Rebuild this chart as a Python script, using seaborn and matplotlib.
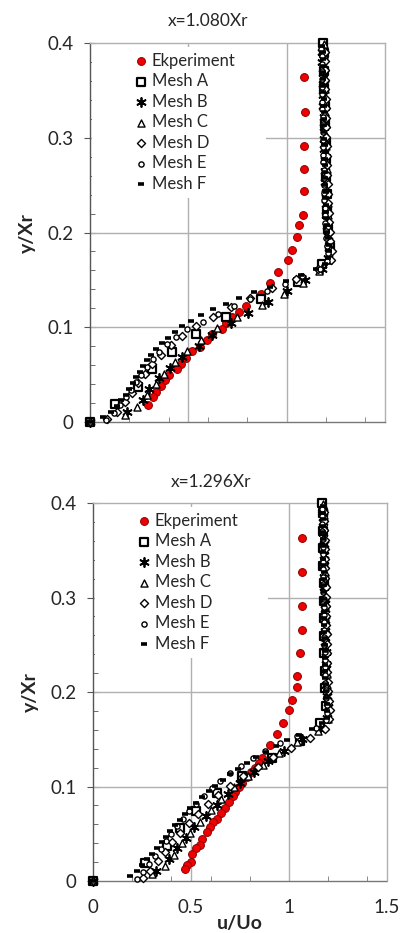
import matplotlib
matplotlib.use("Agg")
import matplotlib.pyplot as plt
import seaborn as sns
import numpy as np
import pandas as pd
from matplotlib.ticker import MultipleLocator, FixedLocator
from matplotlib.patches import Rectangle

# ---------------- DATA ----------------
TITLES = ["x=1.080Xr", "x=1.296Xr"]
SERIES = ["Ekperiment", "Mesh A", "Mesh B", "Mesh C", "Mesh D", "Mesh E", "Mesh F"]
X_TICKS = [0, 0.5, 1, 1.5]
X_TICK_LABELS = ["0", "0.5", "1", "1.5"]
Y_TICKS = [0, 0.1, 0.2, 0.3, 0.4]
Y_TICK_LABELS = ["0", "0.1", "0.2", "0.3", "0.4"]

# Experiment, station 1
EXP1_U = [1.088, 1.095, 1.088, 1.088, 1.088, 1.081, 1.061, 1.052, 1.029, 1.005, 0.958,
          0.917, 0.868, 0.795, 0.756, 0.721, 0.690, 0.670, 0.621, 0.597, 0.558, 0.521,
          0.487, 0.465, 0.440, 0.403, 0.382, 0.360, 0.335, 0.321, 0.293]
EXP1_Y = [0.3645, 0.327, 0.2917, 0.267, 0.244, 0.219, 0.2076, 0.195, 0.182, 0.171, 0.1587,
          0.1467, 0.135, 0.1224, 0.1164, 0.111, 0.105, 0.098, 0.0925, 0.0865, 0.0795, 0.0746,
          0.0675, 0.061, 0.056, 0.050, 0.044, 0.0377, 0.032, 0.026, 0.0176]
# Experiment, station 2
EXP2_U = [1.068, 1.065, 1.068, 1.065, 1.058, 1.041, 1.041, 1.017, 0.998, 0.969, 0.939,
          0.903, 0.864, 0.847, 0.827, 0.804, 0.784, 0.760, 0.743, 0.726, 0.713, 0.692,
          0.673, 0.651, 0.634, 0.614, 0.597, 0.583, 0.555, 0.544, 0.526, 0.503, 0.500,
          0.481, 0.471]
EXP2_Y = [0.363, 0.327, 0.291, 0.266, 0.2416, 0.217, 0.205, 0.192, 0.1806, 0.1676, 0.156,
          0.144, 0.130, 0.125, 0.120, 0.115, 0.110, 0.104, 0.099, 0.0945, 0.090, 0.0836,
          0.077, 0.0716, 0.066, 0.062, 0.0568, 0.052, 0.0448, 0.038, 0.0346, 0.029, 0.020,
          0.017, 0.013]

# Mesh A (same y grid at both stations)
MESH_A_Y = [0, 0.019, 0.037, 0.056, 0.074, 0.093, 0.111, 0.130, 0.148, 0.167, 0.185, 0.204,
            0.222, 0.241, 0.259, 0.278, 0.296, 0.315, 0.333, 0.352, 0.370, 0.389, 0.400]
MESH_A_U1 = [0, 0.127, 0.242, 0.316, 0.416, 0.541, 0.690, 0.868, 1.056, 1.181, 1.222, 1.212,
             1.207, 1.204, 1.202, 1.200, 1.198, 1.196, 1.194, 1.192, 1.190, 1.188, 1.186]
MESH_A_U2 = [0, 0.265, 0.376, 0.444, 0.526, 0.633, 0.762, 0.912, 1.056, 1.158, 1.190, 1.185,
             1.183, 1.181, 1.180, 1.179, 1.178, 1.177, 1.176, 1.175, 1.174, 1.172, 1.167]

# Mesh B
MESH_B_Y = [0, 0.011, 0.023, 0.0345, 0.046, 0.057, 0.069, 0.080, 0.092, 0.104, 0.115, 0.127,
            0.138, 0.150, 0.161, 0.173, 0.184, 0.196, 0.207, 0.219, 0.230, 0.242, 0.253,
            0.265, 0.276, 0.288, 0.299, 0.311, 0.322, 0.334, 0.345, 0.357, 0.368, 0.380, 0.391]
MESH_B_U1 = [0, 0.186, 0.271, 0.301, 0.352, 0.406, 0.470, 0.555, 0.620, 0.715, 0.805, 0.905,
             1.000, 1.095, 1.180, 1.212, 1.215, 1.210, 1.205, 1.202, 1.200, 1.198, 1.197,
             1.195, 1.194, 1.192, 1.191, 1.190, 1.188, 1.187, 1.186, 1.184, 1.183, 1.181, 1.178]
MESH_B_U2 = [0, 0.321, 0.390, 0.427, 0.474, 0.517, 0.577, 0.631, 0.690, 0.752, 0.820, 0.895,
             0.975, 1.065, 1.160, 1.195, 1.198, 1.194, 1.191, 1.189, 1.188, 1.187, 1.186,
             1.185, 1.184, 1.183, 1.182, 1.181, 1.180, 1.179, 1.178, 1.177, 1.176, 1.175, 1.172]

# Mesh C
MESH_C_Y = [0, 0.0074, 0.016, 0.028, 0.040, 0.051, 0.063, 0.075, 0.087, 0.099, 0.111, 0.123,
            0.135, 0.147, 0.159, 0.171, 0.183, 0.195, 0.207, 0.219, 0.231, 0.243, 0.255,
            0.267, 0.279, 0.291, 0.303, 0.315, 0.327, 0.339, 0.351, 0.363, 0.375, 0.387, 0.399]
MESH_C_U1 = [0, 0.178, 0.240, 0.290, 0.335, 0.378, 0.430, 0.495, 0.565, 0.648, 0.745, 0.875,
             0.985, 1.085, 1.165, 1.212, 1.222, 1.216, 1.212, 1.210, 1.208, 1.206, 1.205,
             1.203, 1.202, 1.200, 1.199, 1.198, 1.197, 1.196, 1.195, 1.194, 1.193, 1.192, 1.190]
MESH_C_U2 = [0, 0.300, 0.370, 0.415, 0.455, 0.495, 0.545, 0.600, 0.655, 0.720, 0.790, 0.870,
             0.950, 1.040, 1.150, 1.200, 1.205, 1.198, 1.194, 1.192, 1.190, 1.189, 1.188,
             1.187, 1.186, 1.185, 1.184, 1.183, 1.182, 1.181, 1.180, 1.179, 1.178, 1.177, 1.176]

# Mesh D
MESH_D_Y = [0, 0.003, 0.011, 0.021, 0.031, 0.041, 0.051, 0.061, 0.071, 0.081, 0.091, 0.101,
            0.111, 0.121, 0.131, 0.141, 0.151, 0.161, 0.171, 0.181, 0.191, 0.201, 0.211,
            0.221, 0.231, 0.241, 0.251, 0.261, 0.271, 0.281, 0.291, 0.301, 0.311, 0.321,
            0.331, 0.341, 0.351, 0.361, 0.371, 0.381, 0.391]
MESH_D_U1 = [0, 0.085, 0.135, 0.180, 0.215, 0.245, 0.280, 0.315, 0.360, 0.410, 0.470, 0.540,
             0.625, 0.715, 0.815, 0.925, 1.045, 1.160, 1.225, 1.228, 1.222, 1.218, 1.215,
             1.213, 1.211, 1.209, 1.208, 1.206, 1.205, 1.204, 1.203, 1.202, 1.201, 1.200,
             1.199, 1.198, 1.197, 1.196, 1.195, 1.194, 1.193]
MESH_D_U2 = [0, 0.255, 0.290, 0.330, 0.370, 0.405, 0.445, 0.490, 0.535, 0.585, 0.640, 0.700,
             0.765, 0.840, 0.920, 1.010, 1.105, 1.184, 1.205, 1.208, 1.203, 1.200, 1.198,
             1.196, 1.195, 1.194, 1.193, 1.192, 1.191, 1.190, 1.189, 1.188, 1.187, 1.186,
             1.185, 1.184, 1.183, 1.182, 1.181, 1.180, 1.179]

# Mesh E
MESH_E_Y = [0, 0.0025, 0.010, 0.018, 0.026, 0.034, 0.042, 0.050, 0.058, 0.066, 0.074, 0.082,
            0.090, 0.098, 0.106, 0.114, 0.122, 0.130, 0.138, 0.146, 0.154, 0.162, 0.170,
            0.178, 0.186, 0.194, 0.202, 0.210, 0.218, 0.226, 0.234, 0.242, 0.250, 0.258,
            0.266, 0.274, 0.282, 0.290, 0.298, 0.306, 0.314, 0.322, 0.330, 0.338, 0.346,
            0.354, 0.362, 0.370, 0.378, 0.386, 0.394]
MESH_E_U1 = [0, 0.080, 0.120, 0.155, 0.185, 0.210, 0.235, 0.260, 0.288, 0.318, 0.352, 0.392,
             0.438, 0.492, 0.575, 0.650, 0.730, 0.815, 0.900, 0.990, 1.080, 1.170, 1.205,
             1.212, 1.206, 1.201, 1.198, 1.196, 1.194, 1.193, 1.192, 1.191, 1.190, 1.189,
             1.188, 1.187, 1.186, 1.186, 1.185, 1.184, 1.184, 1.183, 1.182, 1.182, 1.181,
             1.180, 1.180, 1.179, 1.178, 1.178, 1.177]
MESH_E_U2 = [0, 0.223, 0.255, 0.285, 0.315, 0.345, 0.372, 0.400, 0.430, 0.460, 0.492, 0.528,
             0.565, 0.605, 0.650, 0.700, 0.755, 0.815, 0.880, 0.955, 1.040, 1.140, 1.190,
             1.196, 1.192, 1.189, 1.187, 1.186, 1.185, 1.184, 1.183, 1.182, 1.181, 1.181,
             1.180, 1.179, 1.178, 1.178, 1.177, 1.176, 1.176, 1.175, 1.174, 1.174, 1.173,
             1.172, 1.172, 1.171, 1.170, 1.170, 1.169]

# Mesh F
MESH_F_Y = [0, 0.005, 0.011, 0.017, 0.023, 0.029, 0.035, 0.041, 0.047, 0.053, 0.059, 0.065,
            0.071, 0.077, 0.083, 0.089, 0.095, 0.101, 0.107, 0.113, 0.119, 0.125, 0.131,
            0.137, 0.143, 0.149, 0.155, 0.161, 0.167, 0.173, 0.180, 0.187, 0.194, 0.201,
            0.208, 0.215, 0.222, 0.229, 0.236, 0.243, 0.250, 0.257, 0.264, 0.271, 0.278,
            0.285, 0.292, 0.299, 0.306, 0.313, 0.320, 0.327, 0.334, 0.341, 0.348, 0.355,
            0.362, 0.369, 0.376, 0.383, 0.390, 0.397]
MESH_F_U1 = [0, 0.065, 0.105, 0.135, 0.160, 0.182, 0.200, 0.218, 0.235, 0.252, 0.270, 0.290,
             0.312, 0.337, 0.365, 0.396, 0.430, 0.468, 0.512, 0.565, 0.625, 0.690, 0.760,
             0.835, 0.915, 0.995, 1.075, 1.150, 1.195, 1.212, 1.216, 1.213, 1.209, 1.206,
             1.204, 1.202, 1.201, 1.200, 1.199, 1.198, 1.197, 1.196, 1.196, 1.195, 1.194,
             1.193, 1.193, 1.192, 1.191, 1.190, 1.190, 1.189, 1.188, 1.188, 1.187, 1.186,
             1.186, 1.185, 1.184, 1.184, 1.183, 1.182]
MESH_F_U2 = [0, 0.190, 0.225, 0.250, 0.275, 0.300, 0.325, 0.350, 0.372, 0.395, 0.418, 0.442,
             0.468, 0.495, 0.525, 0.557, 0.590, 0.625, 0.662, 0.700, 0.742, 0.785, 0.832,
             0.882, 0.935, 0.990, 1.050, 1.115, 1.170, 1.192, 1.196, 1.193, 1.190, 1.188,
             1.187, 1.186, 1.185, 1.184, 1.184, 1.183, 1.182, 1.182, 1.181, 1.181, 1.180,
             1.180, 1.179, 1.179, 1.178, 1.178, 1.177, 1.177, 1.176, 1.176, 1.175, 1.175,
             1.174, 1.174, 1.173, 1.173, 1.172, 1.172]

PANELS = [
    {"Ekperiment": (EXP1_U, EXP1_Y), "Mesh A": (MESH_A_U1, MESH_A_Y), "Mesh B": (MESH_B_U1, MESH_B_Y),
     "Mesh C": (MESH_C_U1, MESH_C_Y), "Mesh D": (MESH_D_U1, MESH_D_Y), "Mesh E": (MESH_E_U1, MESH_E_Y),
     "Mesh F": (MESH_F_U1, MESH_F_Y)},
    {"Ekperiment": (EXP2_U, EXP2_Y), "Mesh A": (MESH_A_U2, MESH_A_Y), "Mesh B": (MESH_B_U2, MESH_B_Y),
     "Mesh C": (MESH_C_U2, MESH_C_Y), "Mesh D": (MESH_D_U2, MESH_D_Y), "Mesh E": (MESH_E_U2, MESH_E_Y),
     "Mesh F": (MESH_F_U2, MESH_F_Y)},
]

# ---------------- STYLE ----------------
sns.set_style("white")
plt.rcParams["font.family"] = ["Lato", "DejaVu Sans"]

STYLES = {
    "Ekperiment": dict(marker="o", s=32, facecolor="#f00000", edgecolor="#8b0000", linewidth=0.7),
    "Mesh A": dict(marker="s", s=30, facecolor="white", edgecolor="black", linewidth=1.6),
    "Mesh B": dict(marker=(6, 2, 0), s=42, color="black", linewidth=1.3),
    "Mesh C": dict(marker="^", s=26, facecolor="white", edgecolor="black", linewidth=1.0),
    "Mesh D": dict(marker="D", s=17, facecolor="white", edgecolor="black", linewidth=1.0),
    "Mesh E": dict(marker="o", s=14, facecolor="white", edgecolor="black", linewidth=1.0),
    "Mesh F": dict(marker="_", s=14, color="black", linewidth=2.6),
}

fig = plt.figure(figsize=(4.06, 9.33), dpi=100)
positions = [[0.2217, 0.5477, 0.7266, 0.4062], [0.229, 0.0557, 0.7241, 0.4051]]
title_pos = [(208 / 406, 1 - 21 / 933), (211 / 406, 1 - 482 / 933)]
ylab_pos = [(27 / 406, 1 - 233 / 933), (30 / 406, 1 - 692 / 933)]

for i, (pos, data) in enumerate(zip(positions, PANELS)):
    ax = fig.add_axes(pos)
    for k, name in enumerate(SERIES):
        u, y = data[name]
        df = pd.DataFrame({"u": u, "y": y})
        sns.scatterplot(data=df, x="u", y="y", ax=ax, label=name, clip_on=False,
                        zorder=3 + k, legend=False, **STYLES[name])
    ax.set_xlim(0, 1.5)
    ax.set_ylim(0, 0.4)
    ax.set_xlabel("")
    ax.set_ylabel("")
    for gx in [0.5, 1.0]:
        ax.axvline(gx, color="#b0b0b0", lw=1.0, zorder=1)
    for gy in [0.1, 0.2, 0.3]:
        ax.axhline(gy, color="#b0b0b0", lw=1.0, zorder=1)
    # white legend backdrop (Excel legend area)
    ax.add_patch(Rectangle((0.006, 0.59), 0.59, 0.395, transform=ax.transAxes,
                           facecolor="white", edgecolor="none", zorder=2))
    for side in ["top", "right"]:
        ax.spines[side].set_color("#b0b0b0")
        ax.spines[side].set_linewidth(1.0)
    ax.spines["left"].set_color("#555555")
    ax.spines["left"].set_linestyle((0, (1, 1)))
    ax.spines["left"].set_linewidth(1.0)
    ax.spines["bottom"].set_color("#777777")
    ax.spines["bottom"].set_linestyle((0, (1, 1)))
    ax.spines["bottom"].set_linewidth(1.0)

    ax.yaxis.set_major_locator(FixedLocator(Y_TICKS))
    ax.set_yticklabels(Y_TICK_LABELS)
    ax.yaxis.set_minor_locator(MultipleLocator(0.02))
    ax.tick_params(axis="y", which="major", direction="inout", length=8, width=0.8,
                   color="#555555", labelsize=13.5, pad=8, left=True)
    ax.tick_params(axis="y", which="minor", direction="in", length=3.5, width=0.6,
                   color="#555555", left=True)
    ax.xaxis.set_major_locator(FixedLocator(X_TICKS))
    ax.xaxis.set_minor_locator(FixedLocator([0.2, 0.4, 0.6, 0.8, 1.2, 1.4]))
    ax.tick_params(axis="x", which="both", direction="in", length=3.5, width=0.6,
                   color="#777777", bottom=True)
    if i == 1:
        ax.set_xticklabels(X_TICK_LABELS)
        ax.tick_params(axis="x", which="major", labelsize=13.5, pad=13)
    else:
        ax.set_xticklabels([])

    leg = ax.legend(loc="upper left", bbox_to_anchor=(0.13, 0.99), frameon=True,
                    fontsize=12, handlelength=0.8, handletextpad=0.25, labelspacing=0.27,
                    borderpad=0.35, borderaxespad=0.0, fancybox=False)
    leg.get_frame().set_facecolor("white")
    leg.get_frame().set_edgecolor("none")
    leg.get_frame().set_alpha(1.0)
    leg.set_zorder(20)

    fig.text(title_pos[i][0], title_pos[i][1], TITLES[i], ha="center", va="center", fontsize=12.5)
    fig.text(ylab_pos[i][0], ylab_pos[i][1], "y/Xr", ha="center", va="center", rotation=90,
             fontsize=14, fontweight="bold")

fig.text(240 / 406, 1 - 924 / 933, "u/Uo", ha="center", va="center", fontsize=14,
         fontweight="bold")

fig.savefig("out.png", dpi=100)
